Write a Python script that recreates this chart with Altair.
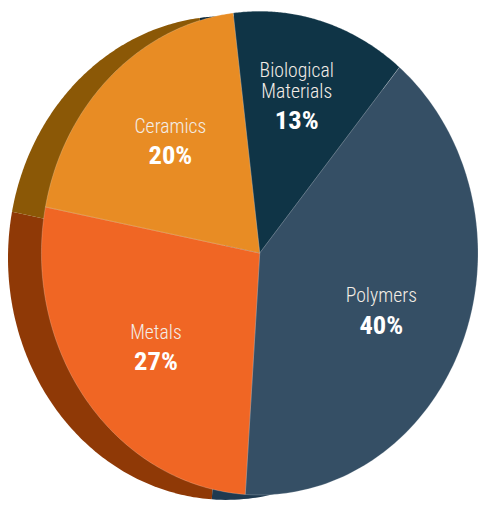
import math
import altair as alt
import pandas as pd

# ---- data ----
categories = ["Biological Materials", "Polymers", "Metals", "Ceramics"]
label_lines = ["Biological\nMaterials", "Polymers", "Metals", "Ceramics"]
values = [13, 40, 27, 20]
front_colors = ["#0f3446", "#354f65", "#f06624", "#e88c24"]
shadow_colors = ["#0b2636", "#1f3a50", "#8f3906", "#8b5806"]

df = pd.DataFrame({
    "category": categories,
    "label": label_lines,
    "value": values,
    "idx": list(range(len(categories))),
})

# ---- layout / style ----
W, H = 479, 500
CX, CY = 256, 245          # ellipse centre in view coords
RX, RY = 222, 246          # ellipse radii
SDX, SDY = -34, 5          # shadow offset
START = -7 * math.pi / 180  # start angle (clockwise from 12 o'clock)
N = 120
LABEL_RX, LABEL_RY = 0.60, 0.635
LH = 21
NAME_FONT = "Roboto Condensed, Open Sans Condensed, Roboto, sans-serif"
PCT_FONT = "Roboto Condensed, Open Sans Condensed, Roboto, sans-serif"

base = alt.Chart(df).transform_window(
    cum="sum(value)", sort=[alt.SortField("idx")], frame=[None, 0]
).transform_joinaggregate(
    total="sum(value)"
).transform_calculate(
    a0=f"(datum.cum - datum.value) / datum.total * 2 * PI + ({START})",
    a1=f"datum.cum / datum.total * 2 * PI + ({START})",
)

outline = base.transform_calculate(
    step=f"sequence(-1, {N + 2})"
).transform_flatten(["step"]).transform_calculate(
    ang=f"datum.a0 + (datum.a1 - datum.a0) * clamp(datum.step, 0, {N}) / {N}",
).transform_calculate(
    px=f"(datum.step < 0 || datum.step > {N}) ? 0 : sin(datum.ang)",
    py=f"(datum.step < 0 || datum.step > {N}) ? 0 : cos(datum.ang)",
)


def xs(dx=0):
    return alt.X("px:Q", axis=None,
                 scale=alt.Scale(domain=[-1, 1], range=[CX - RX + dx, CX + RX + dx]))


def ys(dy=0):
    return alt.Y("py:Q", axis=None,
                 scale=alt.Scale(domain=[-1, 1], range=[CY + RY + dy, CY - RY + dy]))


shadow = outline.mark_line(filled=True, strokeWidth=0).encode(
    x=xs(SDX), y=ys(SDY),
    color=alt.Color("category:N", legend=None,
                    scale=alt.Scale(domain=categories, range=shadow_colors)),
    order=alt.Order("step:Q"),
)

front_slices = outline.mark_line(filled=True, stroke="#ffffff", strokeOpacity=0.35,
                                 strokeWidth=0.6).encode(
    x=xs(), y=ys(),
    fill=alt.Fill("category:N", legend=None,
                  scale=alt.Scale(domain=categories, range=front_colors)),
    detail="category:N",
    order=alt.Order("step:Q"),
)

labels = base.transform_calculate(
    mid="(datum.a0 + datum.a1) / 2",
).transform_calculate(
    px=f"{LABEL_RX} * sin(datum.mid)",
    py=f"{LABEL_RY} * cos(datum.mid)",
    pct="datum.value + '%'",
    nlines="length(split(datum.label, '\\n'))",
)

names = labels.transform_calculate(
    py=f"datum.py + (datum.nlines - 1) * {LH} / {RY}"
).mark_text(
    font=NAME_FONT, fontSize=20, fontWeight=300, color="#f3ede6",
    baseline="alphabetic", align="center", dy=-8, lineBreak="\n", lineHeight=LH,
).encode(x=xs(), y=ys(), text="label:N")

pcts = labels.mark_text(
    font=PCT_FONT, fontSize=27, fontWeight="bold", color="#ffffff",
    baseline="top", align="center", dy=3,
).encode(x=xs(), y=ys(), text="pct:N")

front = alt.layer(front_slices, names, pcts)

chart = alt.layer(shadow, front).resolve_scale(
    x="independent", y="independent", color="independent"
).properties(
    width=W, height=H, padding=0, autosize=alt.AutoSizeParams(type="none"),
    background="#ffffff",
).configure_view(stroke=None)

chart.save("out.html", embed_options={"renderer": "svg", "actions": False})
